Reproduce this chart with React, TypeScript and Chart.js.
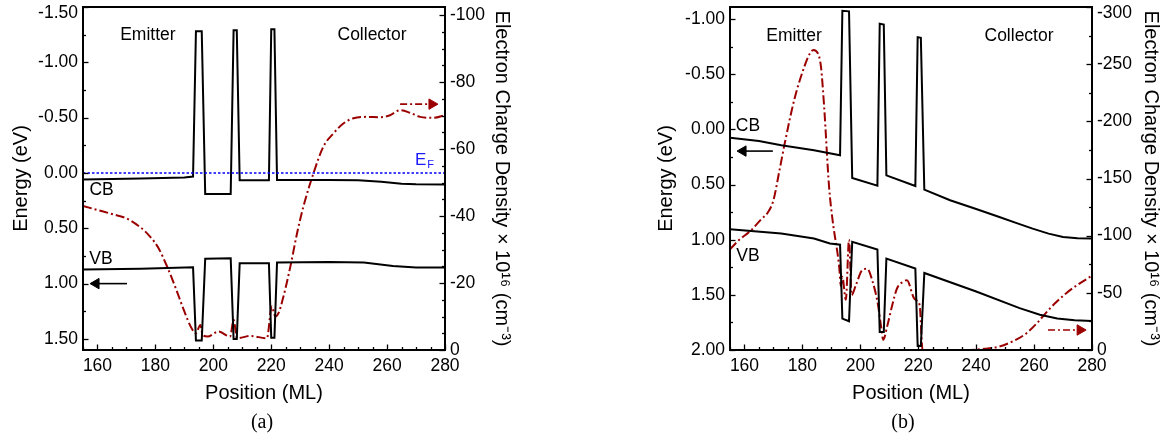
import React, { useEffect, useRef } from "react";
import { Chart, registerables } from "chart.js";

Chart.register(...registerables);

const SANS = "'Liberation Sans', Arial, Helvetica, sans-serif";
const SERIF = "'Liberation Serif', 'Times New Roman', serif";
const DARK_RED = "#9b0000";

// ---------------- Panel (a) ----------------
const posCbA = [155, 175, 190, 193, 194, 196, 197.2, 206, 207, 208.1, 209.1, 219.2, 220, 221.1, 222, 240, 250, 258, 265, 270, 280];
const cbA = [0.058, 0.05, 0.04, 0.033, -1.28, -1.28, 0.19, 0.19, -1.29, -1.29, 0.065, 0.065, -1.3, -1.3, 0.063, 0.063, 0.066, 0.08, 0.097, 0.103, 0.105];

const posVbA = [155, 175, 193, 194, 196, 197.2, 206, 207, 208.1, 209.1, 219.2, 220, 221.1, 222, 240, 252, 262, 270, 280];
const vbA = [0.872, 0.866, 0.853, 1.515, 1.515, 0.775, 0.77, 1.5, 1.5, 0.817, 0.815, 1.49, 1.49, 0.81, 0.805, 0.81, 0.84, 0.855, 0.855];

const posRhoA = [155, 160, 165, 170, 175, 178, 181, 184, 187, 190, 192.5, 194, 195.5, 196.3, 198, 201.8, 205.8, 207, 208.2, 212.8, 218.5, 220.2, 221.4, 222.5, 224.2, 226.6, 228.9, 231, 234.6, 238, 241.5, 245, 248.4, 253, 257.6, 261, 264.5, 268, 271.4, 276, 280];
const rhoA = [-43, -41.8, -40.6, -39.3, -36.5, -34, -30.5, -25, -18.5, -11.5, -6.5, -5, -7.5, -4.5, -4, -5.5, -4, -9, -3.5, -4.2, -3.5, -13, -10, -11, -15.9, -24.9, -34.8, -42.5, -52.8, -60.7, -64.7, -67.7, -69.2, -69.6, -69.5, -70.1, -71.6, -70.8, -69.6, -69.3, -70.1];

const posEfA = [155, 280];
const efA = [0, 0];

// arrows (a)
const posArrowEnergyA = [170.2, 159.5];
const arrowEnergyA = [1.0, 1.0];
const posArrowRhoA = [264.5, 275.5];
const arrowRhoA = [-73.4, -73.4];

// ---------------- Panel (b) ----------------
const posCbB = [155, 165, 172.7, 184, 193, 193.8, 196.1, 197.2, 205.9, 206.7, 208.1, 209, 219, 219.8, 220.9, 222.1, 231, 240, 248, 254, 259.5, 265, 270, 275, 280];
const cbB = [0.075, 0.105, 0.145, 0.19, 0.235, -1.075, -1.07, 0.441, 0.51, -0.957, -0.95, 0.417, 0.514, -0.836, -0.83, 0.546, 0.643, 0.722, 0.794, 0.85, 0.9, 0.945, 0.975, 0.988, 0.99];

const posVbB = [155, 172.7, 184, 189.5, 193, 193.8, 196.1, 197.2, 205.9, 206.7, 208.1, 209, 219, 219.8, 220.9, 222.1, 240, 255, 262, 268, 274, 280];
const vbB = [0.906, 0.945, 0.99, 1.035, 1.045, 1.715, 1.739, 1.02, 1.09, 1.836, 1.836, 1.171, 1.262, 1.963, 1.963, 1.302, 1.47, 1.62, 1.68, 1.715, 1.73, 1.737];

const posRhoB = [155, 158, 162, 166, 168, 170, 172, 174, 177.2, 180.7, 182.5, 183.8, 185.3, 186.4, 187.5, 189.2, 190.4, 192.7, 193.3, 193.8, 195, 196.1, 197, 198.5, 200.7, 202.4, 204.1, 206, 207.2, 207.9, 209.3, 211, 212.7, 215, 216.1, 218.4, 219.6, 220.5, 221.5, 236, 243, 248, 253, 257.3, 261, 264.1, 267.5, 271, 275, 280];
const rhoB = [-88, -96, -104, -115, -120, -131, -156, -182, -219, -248, -259, -262.5, -259.6, -248, -213, -143, -114, -73, -56, -64, -44, -96.5, -48, -57, -70, -71, -61, -41, -20, -9, -21, -39, -54, -60, -61, -46, -43, -39, 0, 0, -1, -3, -8, -14.5, -23.5, -32.5, -41.5, -49.5, -57, -65];

// arrows (b)
const posArrowEnergyB = [169.8, 159.5];
const arrowEnergyB = [0.197, 0.197];
const posArrowRhoB = [264.8, 275.9];
const arrowRhoB = [-17.5, -17.5];

// ---------------- Tick labels ----------------
const positionTicks = [160, 180, 200, 220, 240, 260, 280];
const energyTicksA = [-1.5, -1.0, -0.5, 0, 0.5, 1.0, 1.5];
const densityTicksA = [-100, -80, -60, -40, -20, 0];
const energyTicksB = [-1.0, -0.5, 0, 0.5, 1.0, 1.5, 2.0];
const densityTicksB = [-300, -250, -200, -150, -100, -50, 0];

const zip = (xs: number[], ys: number[]) => xs.map((x, i) => ({ x, y: ys[i] }));

type Note = { text: string; x: number; y: number; axis: string; color?: string; size?: number; sub?: string; align?: CanvasTextAlign };

const frameTicks = {
  id: "frameTicks",
  afterDatasetsDraw(chart: any, _args: any, opts: any) {
    const { ctx, chartArea: a } = chart;
    ctx.save();
    ctx.strokeStyle = "#000";
    ctx.lineWidth = 1.3;
    const drawAxis = (id: string, step: number, side: string) => {
      const s = chart.scales[id];
      if (!s) return;
      const majors = s.ticks.map((t: any) => t.value);
      const lo = Math.min(s.min, s.max);
      const hi = Math.max(s.min, s.max);
      const i0 = Math.ceil(lo / step - 1e-6);
      const i1 = Math.floor(hi / step + 1e-6);
      for (let i = i0; i <= i1; i++) {
        const v = i * step;
        const isMajor = majors.some((m: number) => Math.abs(m - v) < step * 0.01);
        const len = isMajor ? 5.5 : 3;
        const p = Math.round(s.getPixelForValue(v)) + 0.5;
        ctx.beginPath();
        if (side === "bottom") {
          ctx.moveTo(p, a.bottom);
          ctx.lineTo(p, a.bottom - len);
        } else if (side === "left") {
          ctx.moveTo(a.left, p);
          ctx.lineTo(a.left + len, p);
        } else {
          ctx.moveTo(a.right, p);
          ctx.lineTo(a.right - len, p);
        }
        ctx.stroke();
      }
    };
    drawAxis("x", opts.xMinor, "bottom");
    drawAxis("y", opts.yMinor, "left");
    drawAxis("y1", opts.y1Minor, "right");
    ctx.lineWidth = 2;
    ctx.strokeRect(a.left, a.top, a.right - a.left, a.bottom - a.top);

    // shifted top tick label
    if (opts.topLabel) {
      const tl = opts.topLabel;
      const s = chart.scales[tl.axis];
      ctx.font = `17.5px ${SANS}`;
      ctx.fillStyle = "#000";
      ctx.textBaseline = "middle";
      const y = s.getPixelForValue(tl.value) + tl.dy;
      if (s.position === "left") {
        ctx.textAlign = "right";
        ctx.fillText(tl.text, a.left - 5, y);
      } else {
        ctx.textAlign = "left";
        ctx.fillText(tl.text, a.right + 5, y);
      }
    }

    // notes
    const xs = chart.scales.x;
    (opts.notes || []).forEach((n: Note) => {
      const ys = chart.scales[n.axis];
      const px = xs.getPixelForValue(n.x);
      const py = ys.getPixelForValue(n.y);
      const size = n.size || 17.5;
      ctx.fillStyle = n.color || "#000";
      ctx.font = `${size}px ${SANS}`;
      ctx.textBaseline = "middle";
      ctx.textAlign = n.align || "center";
      ctx.fillText(n.text, px, py);
      if (n.sub) {
        const w = ctx.measureText(n.text).width;
        ctx.font = `${size * 0.65}px ${SANS}`;
        ctx.textAlign = "left";
        ctx.fillText(n.sub, px + w + 1, py + size * 0.22);
      }
    });
    ctx.restore();
  },
};

type Panel = {
  leftW: number;
  rightW: number;
  xMin: number;
  xMax: number;
  eMin: number;
  eMax: number;
  rMin: number;
  rMax: number;
  eTicks: number[];
  rTicks: number[];
  eMinor: number;
  rMinor: number;
  leftTitlePad: number;
  rightTitlePad: number;
  topLabel: any;
  notes: Note[];
  datasets: any[];
};

const tickFont = { size: 17.5, family: SANS };
const titleFont = { size: 20, family: SANS };

function lineSet(data: any[], axis: string, color: string, width: number, dash: number[] = [], smooth = false) {
  return {
    data,
    yAxisID: axis,
    borderColor: color,
    backgroundColor: color,
    borderWidth: width,
    borderDash: dash,
    pointRadius: 0,
    fill: false,
    tension: 0,
    cubicInterpolationMode: smooth ? "monotone" : "default",
  };
}

function arrowSet(data: any[], axis: string, color: string, rotation: number, dash: number[] = []) {
  return {
    data,
    yAxisID: axis,
    borderColor: color,
    backgroundColor: color,
    borderWidth: 1.6,
    borderDash: dash,
    pointStyle: "triangle",
    pointRotation: rotation,
    pointRadius: (c: any) => (c.dataIndex === 1 ? 6 : 0),
    pointBackgroundColor: color,
    pointBorderColor: color,
    pointBorderWidth: 1,
    fill: false,
  };
}

function makeConfig(p: Panel, canvasH: number, canvasW: number) {
  const bottomH = canvasH - 350;
  return {
    type: "line",
    data: { datasets: p.datasets },
    options: {
      responsive: false,
      maintainAspectRatio: false,
      animation: false,
      events: [],
      layout: { padding: { top: 7, left: 0, right: 0, bottom: 0 } },
      plugins: {
        legend: { display: false },
        tooltip: { enabled: false },
        frameTicks: { xMinor: 5, yMinor: p.eMinor, y1Minor: p.rMinor, topLabel: p.topLabel, notes: p.notes },
      },
      scales: {
        x: {
          type: "linear",
          position: "bottom",
          min: p.xMin,
          max: p.xMax,
          grid: { display: false, drawTicks: false },
          border: { display: false },
          ticks: { font: tickFont, color: "#000", padding: 6, maxRotation: 0, autoSkip: false, callback: (v: any) => String(v) },
          afterBuildTicks: (s: any) => {
            s.ticks = positionTicks.map((v) => ({ value: v }));
          },
          afterFit: (s: any) => {
            s.height = bottomH;
            s.paddingLeft = 0;
            s.paddingRight = 0;
          },
          title: { display: true, text: "Position (ML)", font: titleFont, color: "#000", padding: { top: 0, bottom: 36 } },
        },
        y: {
          type: "linear",
          position: "left",
          reverse: true,
          min: p.eMin,
          max: p.eMax,
          grid: { display: false, drawTicks: false },
          border: { display: false },
          ticks: {
            font: tickFont,
            color: "#000",
            padding: 5,
            autoSkip: false,
            callback: (v: any) => (p.topLabel && p.topLabel.axis === "y" && v === p.topLabel.value ? "" : Number(v).toFixed(2)),
          },
          afterBuildTicks: (s: any) => {
            s.ticks = p.eTicks.map((v) => ({ value: v }));
          },
          afterFit: (s: any) => {
            s.width = p.leftW;
            s.paddingTop = 0;
            s.paddingBottom = 0;
          },
          title: { display: true, text: "Energy (eV)", font: titleFont, color: "#000", padding: { top: p.leftTitlePad, bottom: 0 } },
        },
        y1: {
          type: "linear",
          position: "right",
          reverse: true,
          min: p.rMin,
          max: p.rMax,
          grid: { display: false, drawTicks: false },
          border: { display: false },
          ticks: {
            font: tickFont,
            color: "#000",
            padding: 5,
            autoSkip: false,
            callback: (v: any) => (p.topLabel && p.topLabel.axis === "y1" && v === p.topLabel.value ? "" : String(v)),
          },
          afterBuildTicks: (s: any) => {
            s.ticks = p.rTicks.map((v) => ({ value: v }));
          },
          afterFit: (s: any) => {
            s.width = p.rightW;
            s.paddingTop = 0;
            s.paddingBottom = 0;
          },
          title: {
            display: true,
            text: "Electron Charge Density × 10¹⁶ (cm⁻³)",
            font: titleFont,
            color: "#000",
            padding: { top: p.rightTitlePad, bottom: 0 },
          },
        },
      },
    },
    plugins: [frameTicks],
  };
}

const panelA: Panel = {
  leftW: 83,
  rightW: 583 - 445,
  xMin: 155,
  xMax: 280,
  eMin: -1.5,
  eMax: 1.6,
  rMin: -102.4,
  rMax: 0,
  eTicks: energyTicksA,
  rTicks: densityTicksA,
  eMinor: 0.25,
  rMinor: 5,
  leftTitlePad: 9,
  rightTitlePad: 69,
  topLabel: { axis: "y", value: -1.5, text: "-1.50", dy: 6.5 },
  notes: [
    { text: "Emitter", x: 177.4, y: -1.242, axis: "y" },
    { text: "Collector", x: 254.8, y: -1.242, axis: "y" },
    { text: "CB", x: 161.4, y: 0.16, axis: "y" },
    { text: "VB", x: 161.2, y: 0.775, axis: "y" },
    { text: "E", sub: "F", x: 269.6, y: -0.11, axis: "y", color: "#1a1aff", size: 17, align: "left" },
  ],
  datasets: [
    lineSet(zip(posEfA, efA), "y", "#0000ff", 1.4, [2.5, 2]),
    lineSet(zip(posCbA, cbA), "y", "#000", 2),
    lineSet(zip(posVbA, vbA), "y", "#000", 2),
    lineSet(zip(posRhoA, rhoA), "y1", DARK_RED, 2, [9, 3, 2, 3], true),
    arrowSet(zip(posArrowEnergyA, arrowEnergyA), "y", "#000", 270),
    arrowSet(zip(posArrowRhoA, arrowRhoA), "y1", DARK_RED, 90, [7, 3, 2, 3]),
  ],
};

const panelB: Panel = {
  leftW: 730 - 583,
  rightW: 1167 - 583 - (1092 - 583),
  xMin: 155,
  xMax: 280,
  eMin: -1.109,
  eMax: 2.0,
  rMin: -300,
  rMax: 0,
  eTicks: energyTicksB,
  rTicks: densityTicksB,
  eMinor: 0.25,
  rMinor: 25,
  leftTitlePad: 71,
  rightTitlePad: 4,
  topLabel: { axis: "y1", value: -300, text: "-300", dy: 6.5 },
  notes: [
    { text: "Emitter", x: 177.1, y: -0.847, axis: "y" },
    { text: "Collector", x: 254.8, y: -0.847, axis: "y" },
    { text: "CB", x: 161.2, y: -0.03, axis: "y" },
    { text: "VB", x: 161.2, y: 1.149, axis: "y" },
  ],
  datasets: [
    lineSet(zip(posCbB, cbB), "y", "#000", 2),
    lineSet(zip(posVbB, vbB), "y", "#000", 2),
    lineSet(zip(posRhoB, rhoB), "y1", DARK_RED, 2, [9, 3, 2, 3], true),
    arrowSet(zip(posArrowEnergyB, arrowEnergyB), "y", "#000", 270),
    arrowSet(zip(posArrowRhoB, arrowRhoB), "y1", DARK_RED, 90, [7, 3, 2, 3]),
  ],
};

function PanelChart({ panel, left, width }: { panel: Panel; left: number; width: number }) {
  const ref = useRef<HTMLCanvasElement | null>(null);
  useEffect(() => {
    if (!ref.current) return;
    const chart = new Chart(ref.current, makeConfig(panel, 441, width) as any);
    return () => chart.destroy();
  }, []);
  return (
    <canvas
      ref={ref}
      width={width}
      height={441}
      style={{ position: "absolute", left, top: 0, width, height: 441 }}
    />
  );
}

export default function App() {
  const caption: React.CSSProperties = {
    position: "absolute",
    top: 409,
    width: 60,
    textAlign: "center",
    font: `20px ${SERIF}`,
    lineHeight: "24px",
    color: "#000",
  };
  return (
    <div style={{ position: "absolute", left: 0, top: 0, width: 1167, height: 441, background: "#fff", overflow: "hidden" }}>
      <PanelChart panel={panelA} left={0} width={583} />
      <PanelChart panel={panelB} left={583} width={584} />
      <div style={{ ...caption, left: 262 - 30 }}>(a)</div>
      <div style={{ ...caption, left: 903 - 30 }}>(b)</div>
    </div>
  );
}
